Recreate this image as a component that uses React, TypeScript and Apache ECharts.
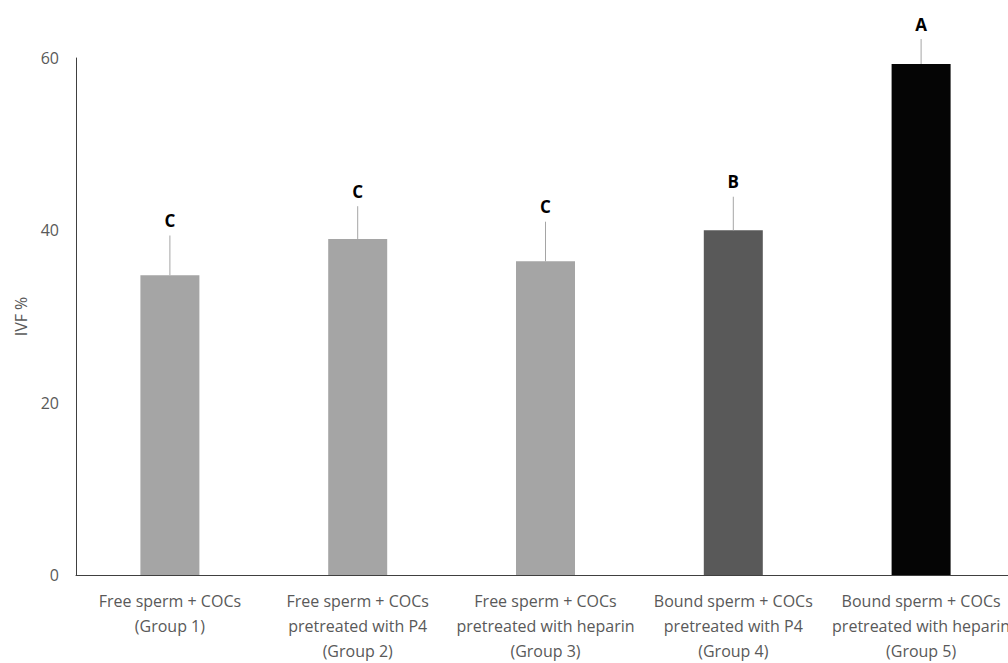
import React, { useEffect, useRef } from "react";
import * as echarts from "echarts";

const categories = [
  "Free sperm + COCs\n(Group 1)",
  "Free sperm + COCs\npretreated with P4\n(Group 2)",
  "Free sperm + COCs\npretreated with heparin\n(Group 3)",
  "Bound sperm + COCs\npretreated with P4\n(Group 4)",
  "Bound sperm + COCs\npretreated with heparin\n(Group 5)",
];
const ivfValues = [34.8, 39.0, 36.4, 40.0, 59.3];
const errorTops = [39.4, 42.8, 41.0, 43.9, 62.2];
const letters = ["C", "C", "C", "B", "A"];
const barColors = ["#a5a5a5", "#a5a5a5", "#a5a5a5", "#595959", "#050505"];
const yTicks = [0, 20, 40, 60];

export default function App() {
  const ref = useRef<HTMLDivElement>(null);
  useEffect(() => {
    if (!ref.current) return;
    document.body.style.margin = "0";
    document.body.style.overflow = "hidden";
    document.documentElement.style.overflow = "hidden";
    const chart = echarts.init(ref.current, undefined, { renderer: "svg" });
    const font = "'Open Sans', 'Noto Sans', sans-serif";
    chart.setOption({
      animation: false,
      grid: { left: 76, top: 58, width: 939, height: 522, containLabel: false },
      xAxis: {
        type: "category",
        data: categories,
        axisTick: { show: false },
        axisLine: { lineStyle: { color: "#404040", width: 1 } },
        axisLabel: {
          color: "#595959",
          fontSize: 16,
          fontFamily: font,
          lineHeight: 25,
          margin: 13,
          interval: 0,
        },
      },
      yAxis: {
        type: "value",
        min: yTicks[0],
        max: yTicks[yTicks.length - 1],
        interval: 20,
        name: "IVF %",
        nameLocation: "middle",
        nameRotate: 90,
        nameGap: 47,
        nameTextStyle: { color: "#595959", fontSize: 16, fontFamily: font },
        splitLine: { show: false },
        axisTick: { show: false },
        axisLine: { show: true, lineStyle: { color: "#404040", width: 1 } },
        axisLabel: { color: "#595959", fontSize: 16, fontFamily: font, margin: 17 },
      },
      series: [
        {
          type: "bar",
          barWidth: 59,
          data: ivfValues.map((v, i) => ({ value: v, itemStyle: { color: barColors[i] } })),
        },
        {
          type: "custom",
          clip: false,
          z: 5,
          data: ivfValues.map((v, i) => [i, v, errorTops[i]]),
          renderItem: (params: any, api: any) => {
            const i = api.value(0);
            const p1 = api.coord([i, api.value(1)]);
            const p2 = api.coord([i, api.value(2)]);
            return {
              type: "group",
              children: [
                {
                  type: "line",
                  shape: { x1: p1[0], y1: p1[1], x2: p2[0], y2: p2[1] },
                  style: { stroke: "#a5a5a5", lineWidth: 1 },
                },
                {
                  type: "text",
                  x: p2[0],
                  y: p2[1] - 15,
                  style: {
                    text: letters[params.dataIndex],
                    fill: "#000000",
                    fontSize: 17,
                    fontWeight: "bold",
                    fontFamily: font,
                    align: "center",
                    verticalAlign: "middle",
                  },
                },
              ],
            };
          },
        },
      ],
    });
    return () => chart.dispose();
  }, []);
  return (
    <div
      style={{
        width: 1008,
        height: 663,
        overflow: "hidden",
        background: "#fff",
      }}
    >
      <div ref={ref} style={{ width: 1016, height: 663 }} />
    </div>
  );
}
